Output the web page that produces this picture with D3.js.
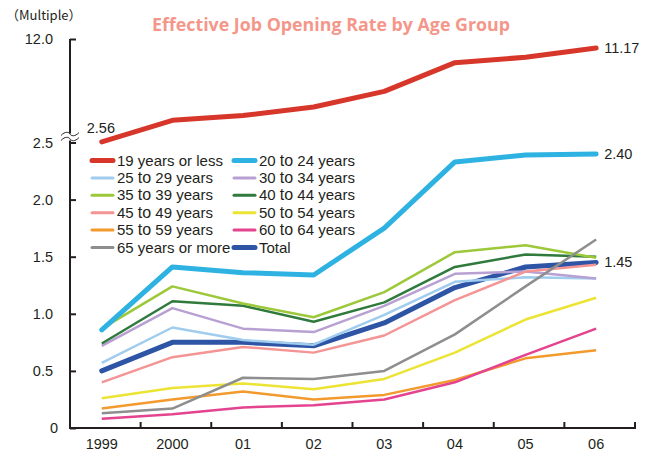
<!DOCTYPE html>
<html>
<head>
<meta charset="utf-8">
<script src="https://cdn.jsdelivr.net/npm/d3@7.9.0/dist/d3.min.js"></script>
<style>
  body { margin: 0; background: #fff; }
  svg text { font-family: "Liberation Sans", Arial, "Noto Sans CJK JP", sans-serif; fill: #231f20; }
</style>
</head>
<body>
<div id="chart"></div>
<script>
// values
const years = ["1999", "2000", "01", "02", "03", "04", "05", "06"];
const under19 = [2.56, 4.54, 4.97, 5.76, 7.19, 9.83, 10.32, 11.17];
const age20to24 = [0.86, 1.41, 1.36, 1.34, 1.75, 2.33, 2.39, 2.40];
const age25to29 = [0.57, 0.88, 0.77, 0.73, 0.99, 1.28, 1.32, 1.31];
const age30to34 = [0.72, 1.05, 0.87, 0.84, 1.07, 1.35, 1.37, 1.31];
const age35to39 = [0.87, 1.24, 1.09, 0.97, 1.19, 1.54, 1.60, 1.49];
const age40to44 = [0.74, 1.11, 1.07, 0.93, 1.10, 1.41, 1.52, 1.50];
const age45to49 = [0.40, 0.62, 0.71, 0.66, 0.81, 1.12, 1.37, 1.43];
const age50to54 = [0.26, 0.35, 0.39, 0.34, 0.43, 0.66, 0.95, 1.14];
const age55to59 = [0.17, 0.25, 0.32, 0.25, 0.29, 0.42, 0.61, 0.68];
const age60to64 = [0.08, 0.12, 0.18, 0.20, 0.25, 0.40, 0.64, 0.87];
const age65plus = [0.13, 0.17, 0.44, 0.43, 0.50, 0.82, 1.24, 1.65];
const total = [0.50, 0.75, 0.75, 0.72, 0.92, 1.23, 1.41, 1.45];

const lowerTicks = [0, 0.5, 1.0, 1.5, 2.0, 2.5];
const upperTicks = [12.0];

const series = [
  { name: "19 years or less", values: under19, color: "#d7372b", w: 5, upper: true },
  { name: "20 to 24 years", values: age20to24, color: "#2eb2e2", w: 5 },
  { name: "25 to 29 years", values: age25to29, color: "#a0ccee", w: 2.5 },
  { name: "30 to 34 years", values: age30to34, color: "#b8a0d3", w: 2.5 },
  { name: "35 to 39 years", values: age35to39, color: "#9cc83a", w: 2.5 },
  { name: "40 to 44 years", values: age40to44, color: "#2f7a3c", w: 2.5 },
  { name: "45 to 49 years", values: age45to49, color: "#f59494", w: 2.5 },
  { name: "50 to 54 years", values: age50to54, color: "#ece434", w: 2.5 },
  { name: "55 to 59 years", values: age55to59, color: "#f39a2e", w: 2.5 },
  { name: "60 to 64 years", values: age60to64, color: "#e4448f", w: 2.5 },
  { name: "65 years or more", values: age65plus, color: "#8e8e8e", w: 2.5 },
  { name: "Total", values: total, color: "#2e55a5", w: 5 }
];
// drawing order (last on top)
const drawOrder = ["Total", "25 to 29 years", "30 to 34 years", "45 to 49 years", "40 to 44 years",
  "35 to 39 years", "50 to 54 years", "55 to 59 years", "60 to 64 years", "65 years or more",
  "20 to 24 years", "19 years or less"];

const width = 654, height = 458;
const svg = d3.select("#chart").append("svg")
  .attr("width", width).attr("height", height);

const x = d3.scaleBand().domain(years).range([70, 635]);
const xPos = d => x(d) + x.bandwidth() * 0.45;
const yLow = d3.scaleLinear().domain([0, 2.5]).range([428, 142.5]);
const yHigh = d3.scaleLinear().domain([2.5, 12]).range([142.5, 39]);

// title + unit
svg.append("text")
  .attr("x", 331).attr("y", 31)
  .attr("text-anchor", "middle")
  .style("font-family", "'Open Sans', 'Noto Sans', sans-serif")
  .style("font-weight", "bold")
  .style("font-size", "17px")
  .style("fill", "#f4978a")
  .attr("textLength", 358).attr("lengthAdjust", "spacingAndGlyphs")
  .text("Effective Job Opening Rate by Age Group");

svg.append("text")
  .attr("x", 6).attr("y", 20)
  .style("font-family", "'Noto Sans CJK JP', sans-serif")
  .style("font-size", "13px")
  .text("（Multiple）");

// y axes
const yAxisLow = d3.axisLeft(yLow).tickValues(lowerTicks)
  .tickFormat(d => d === 0 ? "0" : d3.format(".1f")(d))
  .tickSize(-6).tickPadding(17);
const yAxisHigh = d3.axisLeft(yHigh).tickValues(upperTicks)
  .tickFormat(d3.format(".1f")).tickSize(-6).tickPadding(17);

const gLow = svg.append("g").attr("transform", "translate(70,0)").call(yAxisLow);
const gHigh = svg.append("g").attr("transform", "translate(70,0)").call(yAxisHigh);
[gLow, gHigh].forEach(g => {
  g.select(".domain").remove();
  g.selectAll(".tick line").attr("stroke", "#231f20").attr("stroke-width", 2);
  g.selectAll(".tick text").style("font-size", "14.5px").style("fill", "#231f20");
});
gLow.selectAll(".tick text").filter(d => d === 0).attr("x", -12);

svg.append("line")
  .attr("x1", 70).attr("x2", 70).attr("y1", yHigh(12)).attr("y2", yLow(0) + 1)
  .attr("stroke", "#231f20").attr("stroke-width", 2);

// axis break mark
const brk = svg.append("g").attr("transform", `translate(70,${yLow(2.5) - 6})`);
brk.append("rect").attr("x", -10).attr("y", -3).attr("width", 20).attr("height", 7).attr("fill", "#fff");
[-2.5, 2.5].forEach(dy => {
  brk.append("path")
    .attr("d", `M-9,${dy + 1.5} C-5,${dy - 3} -1,${dy - 2} 0,${dy} S5,${dy + 3} 9,${dy - 1.5}`)
    .attr("fill", "none").attr("stroke", "#231f20").attr("stroke-width", 1);
});

// x axis
svg.append("line")
  .attr("x1", 69).attr("x2", 636).attr("y1", 428).attr("y2", 428)
  .attr("stroke", "#231f20").attr("stroke-width", 2);
svg.append("g").selectAll("line")
  .data(years)
  .join("line")
  .attr("x1", d => x(d) + x.bandwidth()).attr("x2", d => x(d) + x.bandwidth())
  .attr("y1", 428).attr("y2", 422)
  .attr("stroke", "#231f20").attr("stroke-width", 2);
svg.append("g").selectAll("text")
  .data(years)
  .join("text")
  .attr("x", d => xPos(d)).attr("y", 449)
  .attr("text-anchor", "middle")
  .style("font-size", "14.5px")
  .text(d => d);

// lines
const lineLow = d3.line().x((d, i) => xPos(years[i])).y(d => yLow(d));
const lineHigh = d3.line().x((d, i) => xPos(years[i])).y(d => yHigh(d));

const ordered = drawOrder.map(n => series.find(s => s.name === n));
svg.append("g").selectAll("path")
  .data(ordered)
  .join("path")
  .attr("d", s => (s.upper ? lineHigh : lineLow)(s.values))
  .attr("fill", "none")
  .attr("stroke", s => s.color)
  .attr("stroke-width", s => s.w)
  .attr("stroke-linejoin", "round")
  .attr("stroke-linecap", s => s.w > 3 ? "round" : "butt");

// end labels
const endLabels = [
  { text: "2.56", x: xPos(years[0]) - 15, y: yHigh(under19[0]) - 9, anchor: "start" },
  { text: "11.17", x: xPos(years[7]) + 8, y: yHigh(under19[7]) + 5, anchor: "start" },
  { text: "2.40", x: xPos(years[7]) + 8, y: yLow(age20to24[7]) + 5, anchor: "start" },
  { text: "1.45", x: xPos(years[7]) + 8, y: yLow(total[7]) + 5, anchor: "start" }
];
svg.append("g").selectAll("text")
  .data(endLabels)
  .join("text")
  .attr("x", d => d.x).attr("y", d => d.y)
  .attr("text-anchor", d => d.anchor)
  .style("font-size", "14.5px")
  .text(d => d.text);

// legend, two columns
const legend = svg.append("g");
const rowH = 17.4;
const items = legend.selectAll("g")
  .data(series)
  .join("g")
  .attr("transform", (d, i) => `translate(${i % 2 === 0 ? 92 : 234},${160.5 + Math.floor(i / 2) * rowH})`);
items.append("line")
  .attr("x1", 0).attr("x2", 21).attr("y1", 0).attr("y2", 0)
  .attr("stroke", d => d.color)
  .attr("stroke-width", d => d.w > 3 ? 5 : 3)
  .attr("stroke-linecap", "round");
items.append("text")
  .attr("x", 25).attr("y", 5)
  .style("font-size", "15px")
  .each(function (d) {
    const t = d3.select(this);
    const parts = d.name.split(" to ");
    if (parts.length === 2) {
      t.append("tspan").text(parts[0] + " ");
      t.append("tspan").style("font-size", "16px").text("to");
      t.append("tspan").text(" " + parts[1]);
    } else {
      t.text(d.name);
    }
  });
</script>
</body>
</html>
